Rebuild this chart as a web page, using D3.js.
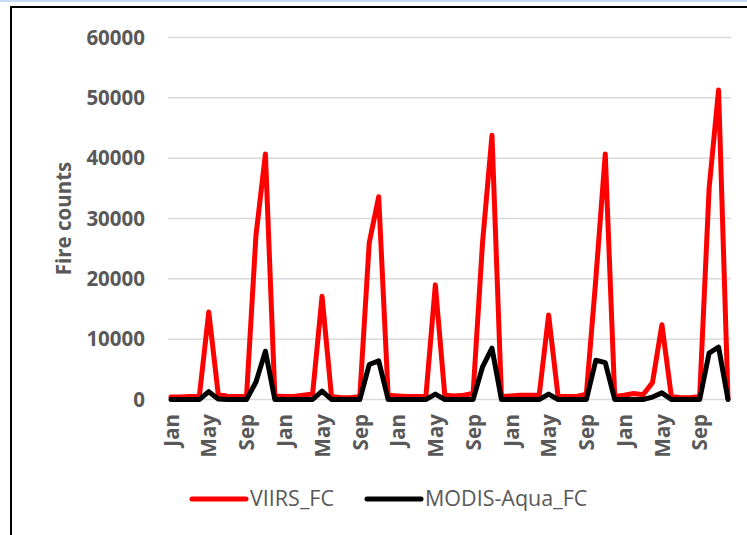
<!DOCTYPE html>
<html lang="en">
<head>
  <meta charset="UTF-8" />
  <title>Fire counts</title>
  <style>
    body { margin:0; background:#fff; overflow:hidden; }
    svg { display:block; font-family:"Open Sans", sans-serif; }
  </style>
</head>
<body>
  <svg id="chart" width="747" height="535"></svg>

  <script src="https://d3js.org/d3.v7.min.js"></script>
  <script>
  // monthly series, Jan of year 1 .. Dec of year 5
  const monthNames = ["Jan","Feb","Mar","Apr","May","Jun","Jul","Aug","Sep","Oct","Nov","Dec"];
  const viirsFC = [
    400, 400, 500, 500, 14500, 900, 500, 500, 500, 27200, 40700, 600,
    500, 500, 700, 900, 17100, 500, 300, 300, 500, 26000, 33600, 700,
    600, 500, 500, 500, 19000, 700, 600, 700, 1000, 26000, 43800, 500,
    600, 700, 700, 700, 14000, 500, 500, 500, 900, 20000, 40700, 500,
    700, 1000, 800, 2800, 12400, 500, 300, 300, 500, 35000, 51300, 100
  ];
  const modisFC = [
    0, 0, 0, 0, 1300, 100, 0, 0, 0, 2900, 8000, 0,
    0, 0, 0, 0, 1400, 0, 0, 0, 0, 5800, 6400, 0,
    0, 0, 0, 0, 900, 0, 0, 0, 0, 5400, 8500, 0,
    0, 0, 0, 0, 900, 0, 0, 0, 0, 6500, 6100, 0,
    0, 0, 0, 400, 1100, 0, 0, 0, 0, 7700, 8700, 0
  ];
  const yTicks = [0, 10000, 20000, 30000, 40000, 50000, 60000];
  const seriesNames = ["VIIRS_FC", "MODIS-Aqua_FC"];
  const seriesColors = ["#ff0000", "#000000"];

  const svg = d3.select("#chart");
  const textCol = "#595959";
  const idx = d3.range(viirsFC.length);

  const x = d3.scalePoint().domain(idx).range([171, 728]);
  const y = d3.scaleLinear().domain([0, 60000]).range([399.5, 37.5]);

  // outer frame
  svg.append("rect").attr("x",0).attr("y",0).attr("width",747).attr("height",2)
     .attr("fill","#c6dcf3");
  svg.append("rect").attr("x",11).attr("y",7).attr("width",760).attr("height",560)
     .attr("fill","none").attr("stroke","#000").attr("stroke-width",2);

  // gridlines
  svg.append("g").selectAll("line").data(yTicks).join("line")
     .attr("x1",168).attr("x2",731)
     .attr("y1",d=>y(d)).attr("y2",d=>y(d))
     .attr("stroke","#d9d9d9").attr("stroke-width",1.5);

  // y axis
  const gy = svg.append("g").attr("transform","translate(160,0)")
     .call(d3.axisLeft(y).tickValues(yTicks).tickSize(0).tickPadding(15).tickFormat(d3.format("d")));
  gy.select(".domain").remove();
  gy.selectAll("text").attr("fill",textCol).style("font-size","20.5px").style("font-weight","bold")
    .style("font-family","'Open Sans', sans-serif");

  svg.append("text")
     .attr("transform","translate(70.5,218.5) rotate(-90)")
     .attr("text-anchor","middle").attr("fill",textCol)
     .style("font-size","20.5px").style("font-weight","bold")
     .text("Fire counts");

  // x axis
  const gx = svg.append("g").attr("transform","translate(0,414)")
     .call(d3.axisBottom(x).tickValues(idx.filter(i=>i%4===0)).tickSize(0)
           .tickFormat(i=>monthNames[i%12]));
  gx.select(".domain").remove();
  gx.selectAll("text")
    .attr("transform","rotate(-90)").attr("x",0).attr("y",0).attr("dy","0.35em")
    .attr("text-anchor","end").attr("fill",textCol)
    .style("font-size","20.5px").style("font-weight","bold")
    .style("font-family","'Open Sans', sans-serif");

  // lines
  const line = d3.line().x((d,i)=>x(i)).y(d=>y(d));
  [viirsFC, modisFC].forEach((s,k)=>{
    svg.append("path").datum(s)
       .attr("d",line).attr("fill","none")
       .attr("stroke",seriesColors[k]).attr("stroke-width",5)
       .attr("stroke-linejoin","round").attr("stroke-linecap","round");
  });

  // legend
  const legX = [192, 367];
  seriesNames.forEach((name,k)=>{
    const g = svg.append("g").attr("transform",`translate(${legX[k]},499)`);
    g.append("line").attr("x1",0).attr("x2",54).attr("y1",0).attr("y2",0)
     .attr("stroke",seriesColors[k]).attr("stroke-width",5).attr("stroke-linecap","round");
    g.append("text").attr("x",58).attr("y",7)
     .attr("fill",textCol).style("font-size","21.5px")
     .text(name);
  });
  </script>
</body>
</html>
